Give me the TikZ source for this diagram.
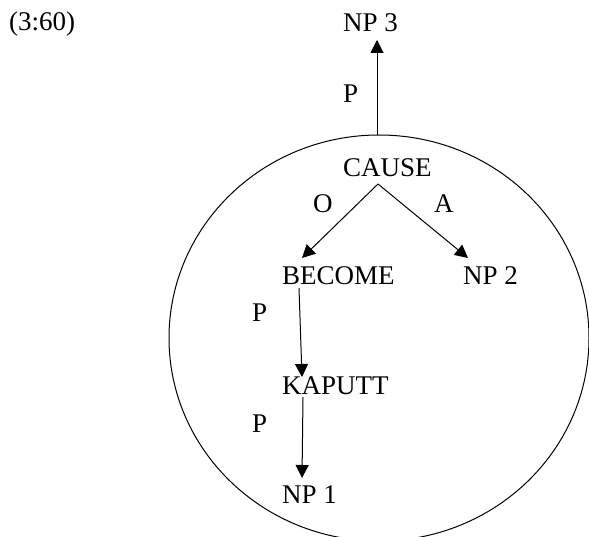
\documentclass[tikz,border=0pt]{standalone}
\usepackage{fontspec}
\setmainfont{Liberation Serif}
\usetikzlibrary{arrows.meta}
\tikzset{
  lbl/.style={inner sep=0pt, anchor=base west, font=\fontsize{27}{32}\selectfont},
  arr/.style={line width=1pt, -{Triangle[length=13pt,width=13pt]}},
  ring/.style={line width=1pt}
}
\begin{document}
\begin{tikzpicture}[x=1pt,y=-1pt]
\clip (0,0) rectangle (589,537);
\fill[white] (0,0) rectangle (589,537);
% texts
\node[lbl] (ex) at (9,31) {(3:60)};
\node[lbl] (np3) at (343,32) {NP 3};
\node[lbl] (p0) at (343,103) {P};
\node[lbl] (cause) at (343,177) {CAUSE};
\node[lbl] (o) at (313,213) {O};
\node[lbl] (a) at (434,213) {A};
\node[lbl] (become) at (282,285) {BECOME};
\node[lbl] (np2) at (463,285) {NP 2};
\node[lbl] (p1) at (252,322) {P};
\node[lbl] (kaputt) at (282,394) {KAPUTT};
\node[lbl] (p2) at (252,432) {P};
\node[lbl] (np1) at (282,503) {NP 1};
% ring
\draw[ring] (379,338) ellipse [x radius=210pt, y radius=203pt];
% connector end points
\coordinate (top) at (377,135);
\coordinate (np3in) at (377,40);
\coordinate (apex) at (378,184);
\coordinate (becin) at (302,258);
\coordinate (np2in) at (468,258);
\coordinate (becout) at (299,288);
\coordinate (kapin) at (302,377);
\coordinate (kapout) at (303,397);
\coordinate (np1in) at (302,478);
% connectors
\draw[arr] (top) -- (np3in);
\draw[arr] (apex) -- (becin);
\draw[arr] (apex) -- (np2in);
\draw[arr] (becout) -- (kapin);
\draw[arr] (kapout) -- (np1in);
\end{tikzpicture}
\end{document}
